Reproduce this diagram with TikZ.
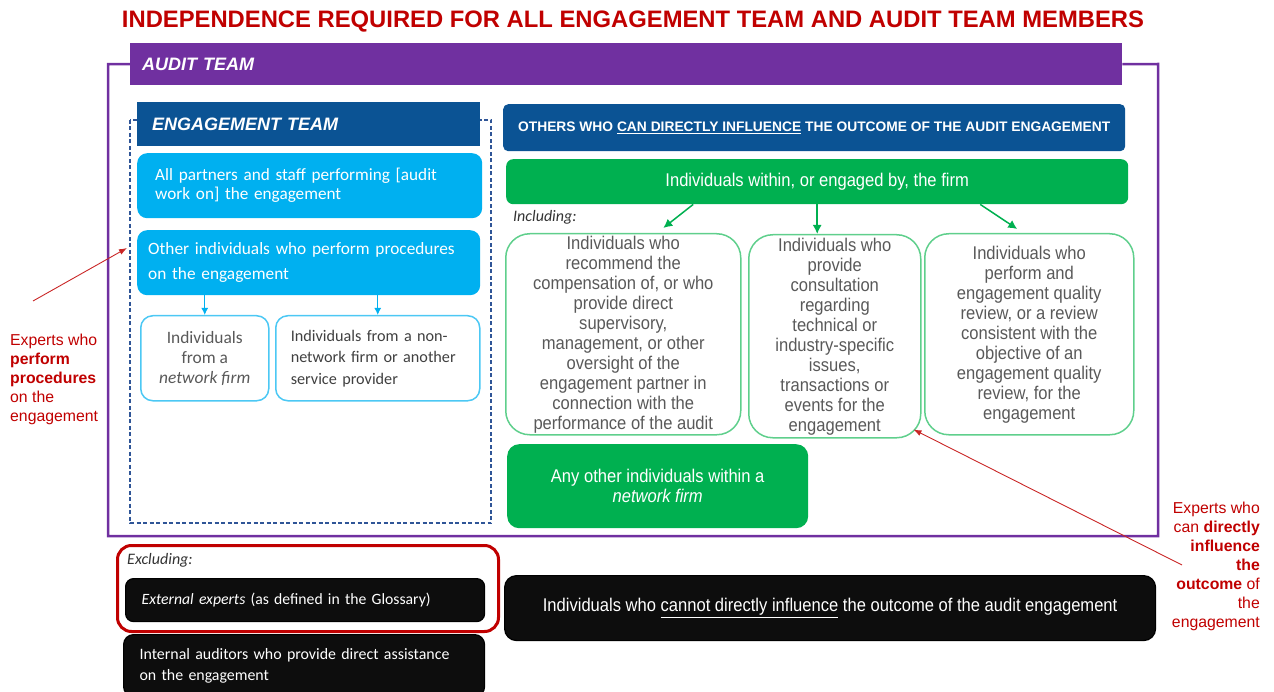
\documentclass[tikz,border=0pt]{standalone}
\usepackage{fontspec}
\setmainfont{Liberation Sans}
\newfontfamily\narrowfont[FakeStretch=0.9]{Liberation Sans}
\newfontfamily\calibrifont{Carlito}
\usetikzlibrary{shapes,arrows,arrows.meta,positioning}
\definecolor{titlered}{HTML}{C00000}
\definecolor{auditpurple}{HTML}{7030A0}
\definecolor{engblue}{HTML}{0B5394}
\definecolor{skyblue}{HTML}{00B0F0}
\definecolor{firmgreen}{HTML}{00B050}
\definecolor{palegreen}{HTML}{5FCF8C}
\definecolor{dashblue}{HTML}{2F5597}
\definecolor{boxgray}{HTML}{595959}
\definecolor{nearblack}{HTML}{0D0D0D}
\tikzstyle{maintitle} = [font=\bfseries\fontsize{23.8}{28}\selectfont, text=titlered, inner sep=0pt]
\tikzstyle{band} = [rectangle, fill=auditpurple, text=white, anchor=north west,
    inner xsep=12pt, align=left, font=\bfseries\itshape\fontsize{18}{22}\selectfont]
\tikzstyle{header} = [rectangle, fill=engblue, text=white, anchor=north west,
    align=left, font=\bfseries\itshape\fontsize{18}{22}\selectfont]
\tikzstyle{lightbox} = [rectangle, rounded corners=10pt, fill=skyblue, text=white,
    anchor=north west, align=left, font=\calibrifont\fontsize{17.2}{19}\selectfont]
\tikzstyle{subbox} = [rectangle, rounded corners=12pt, draw=skyblue!70, line width=1.5pt,
    fill=white, text=boxgray, anchor=north west, font=\calibrifont\fontsize{17.4}{20}\selectfont]
\tikzstyle{greenbox} = [rectangle, rounded corners=7pt, fill=firmgreen, text=white,
    anchor=north west, align=center, font=\narrowfont\fontsize{18.4}{20}\selectfont]
\tikzstyle{inclbox} = [rectangle, rounded corners=24pt, draw=palegreen, line width=1.5pt,
    text=boxgray, anchor=north west, align=center, inner ysep=1pt,
    font=\narrowfont\fontsize{18.4}{20}\selectfont]
\tikzstyle{incl} = [font=\calibrifont\itshape\fontsize{16}{18}\selectfont, text=black!80, inner sep=0pt]
\tikzstyle{exclframe} = [rectangle, rounded corners=14pt, draw=titlered, line width=3pt, anchor=north west]
\tikzstyle{darkbox} = [rectangle, rounded corners=10pt, fill=nearblack, draw=black, line width=1.2pt,
    text=white, anchor=north west, align=left, font=\calibrifont\fontsize{15.9}{21}\selectfont]
\tikzstyle{note} = [text=titlered, inner sep=0pt, font=\fontsize{15.8}{19}\selectfont]
\tikzstyle{auditframe} = [draw=auditpurple, line width=2.5pt]
\tikzstyle{dashbox} = [draw=dashblue, line width=1.5pt, dash pattern=on 4pt off 2.5pt]
\tikzstyle{bluearrow} = [-{Latex[length=7pt,width=7pt]}, draw=skyblue, fill=skyblue, line width=1.2pt]
\tikzstyle{greenarrow} = [-{Latex[length=9pt,width=9pt]}, draw=firmgreen, line width=1.5pt]
\tikzstyle{redarrow} = [-{Latex[length=8pt,width=6pt]}, draw=titlered!85, line width=0.9pt]
\begin{document}
\begin{tikzpicture}[x=1pt, y=-1pt, >=latex']
    \useasboundingbox (0,0) rectangle (1274,692);
    % Title and the audit team band with its frame
    \node [maintitle, anchor=base] (title) at (633,28)
        {INDEPENDENCE REQUIRED FOR ALL ENGAGEMENT TEAM AND AUDIT TEAM MEMBERS};
    \node [band, minimum width=992pt, minimum height=42pt, text width=968pt] (auditband) at (130,43) {AUDIT TEAM};
    \coordinate (framebl) at (108,536);
    \coordinate (frametr) at (1158,64);
    \draw [auditframe] (auditband.west) -| (framebl) -| (frametr) -- (auditband.east);

    % Engagement team (left column)
    \draw [dashbox] (130,120) rectangle (491,523);
    \node [header, minimum height=44pt, text width=313pt, inner xsep=15pt] (enghead) at (137,102) {ENGAGEMENT TEAM};
    \node [lightbox, text width=309pt, inner xsep=18pt, minimum height=65pt] (allstaff) at (137,153)
        {All partners and staff performing [audit\\work on] the engagement};
    \node [lightbox, text width=321pt, inner xsep=11pt, minimum height=65pt,
        font=\calibrifont\fontsize{17.3}{25}\selectfont] (otherind) at (137,230)
        {Other individuals who perform procedures\\on the engagement};
    \node [subbox, minimum width=128pt, minimum height=85pt, align=center] (netfirm) at (140,315)
        {Individuals\\from a\\\textit{network firm}};
    \node [subbox, text width=174pt, inner xsep=15pt, minimum height=85pt, align=left, text=black!75,
        font=\calibrifont\fontsize{16.2}{21.5}\selectfont] (nonnet) at (275,315)
        {Individuals from a non-\\network firm or another\\service provider};
    \draw [bluearrow] (netfirm.north |- otherind.south) -- (netfirm.north);
    \draw [bluearrow] (nonnet.north |- otherind.south) -- (nonnet.north);

    % Others who can directly influence the outcome (right column)
    \node [header, rounded corners=5pt, minimum width=622pt, minimum height=47pt, align=center,
        font=\bfseries\fontsize{13.8}{16}\selectfont] (othershead) at (503,104)
        {OTHERS WHO \underline{CAN DIRECTLY INFLUENCE} THE OUTCOME OF THE AUDIT ENGAGEMENT};
    \node [greenbox, minimum width=622pt, minimum height=45pt] (firm) at (506,159)
        {Individuals within, or engaged by, the firm};
    \node [incl, below right=6pt and 7pt of firm.south west] (including) {Including:};
    \node [inclbox, minimum width=235pt, minimum height=201pt] (incl1) at (505,233)
        {Individuals who\\recommend the\\compensation of, or who\\provide direct\\supervisory,\\management, or other\\oversight of the\\engagement partner in\\connection with the\\performance of the audit};
    \node [inclbox, minimum width=172pt, minimum height=203pt] (incl2) at (748,234)
        {Individuals who\\provide\\consultation\\regarding\\technical or\\industry-specific\\issues,\\transactions or\\events for the\\engagement};
    \node [inclbox, minimum width=209pt, minimum height=201pt] (incl3) at (924,233)
        {Individuals who\\perform and\\engagement quality\\review, or a review\\consistent with the\\objective of an\\engagement quality\\review, for the\\engagement};
    \draw [greenarrow] ([xshift=-124pt]firm.south) -- ([shift={(40,-5)}]incl1.north);
    \draw [greenarrow] (firm.south) -- (firm.south |- incl2.north);
    \draw [greenarrow] ([xshift=163pt]firm.south) -- ([shift={(-12,-4)}]incl3.north);
    \node [greenbox, rounded corners=12pt, minimum width=301pt, minimum height=84pt] (anyother) at (507,444)
        {Any other individuals within a\\\textit{network firm}};

    % Excluded from the audit team
    \node [exclframe, minimum width=381pt, minimum height=86pt] (excl) at (116,544) {};
    \node [incl, below right=9pt and 11pt of excl.north west] (excluding) {Excluding:};
    \node [darkbox, rounded corners=8pt, text width=327pt, inner xsep=16pt, minimum height=43pt,
        font=\calibrifont\fontsize{15.7}{21}\selectfont] (extexp) at (125,578)
        {\textit{External experts} (as defined in the Glossary)};
    \node [darkbox, text width=329pt, inner xsep=16pt, minimum height=62pt] (intaud) at (123,634)
        {Internal auditors who provide direct assistance\\on the engagement};
    \node [darkbox, rounded corners=12pt, minimum width=651pt, minimum height=65pt, align=center,
        font=\narrowfont\fontsize{18.4}{20}\selectfont] (cannot) at (504,575)
        {Individuals who \underline{cannot directly influence} the outcome of the audit engagement};

    % Red notes on the experts
    \node [note, anchor=north west, align=left] (noteproc) at (10,334)
        {Experts who\\\textbf{perform}\\\textbf{procedures}\\on the\\engagement};
    \node [note, anchor=north east, align=right] (noteinfl) at (1260,502)
        {Experts who\\can \textbf{directly}\\\textbf{influence}\\\textbf{the}\\\textbf{outcome} of\\the\\engagement};
    \coordinate (proctail) at (33,301);
    \coordinate (proctip) at (127,248);
    \coordinate (infltail) at (1182,565);
    \draw [redarrow] (proctail) -- (proctip);
    \draw [redarrow] (infltail) -- ([shift={(-8,-9)}]incl2.south east);
\end{tikzpicture}
\end{document}
